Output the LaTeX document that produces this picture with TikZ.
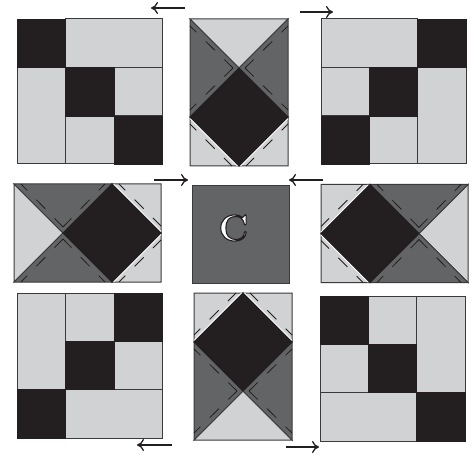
\documentclass[tikz,border=0pt]{standalone}
\usepackage{fontspec}
\usetikzlibrary{arrows.meta}
\newfontfamily\outlinefont[BoldFeatures={FakeBold=3}]{Latin Modern Roman}
\definecolor{lightq}{HTML}{D1D2D4}
\definecolor{darkq}{HTML}{231F20}
\definecolor{midq}{HTML}{636466}
\definecolor{edgeq}{HTML}{3A3A3C}
\tikzset{
  lightpatch/.style={fill=lightq,draw=edgeq,line width=1pt},
  darkpatch/.style={fill=darkq,draw=darkq,line width=0.8pt},
  midpatch/.style={fill=midq,draw=edgeq,line width=1pt},
  seamline/.style={draw=darkq,line width=0.8pt,dash pattern=on 13pt off 13pt,dash phase=4pt},
  whiteline/.style={draw=white,line width=1pt},
  turnarrow/.style={draw=darkq,line width=1.3pt,-{Computer Modern Rightarrow[length=7pt,width=12pt]}},
}
\newcommand{\ninepatch}[1]{%
  \begin{scope}[#1]
    \fill[lightq] (0,0) rectangle (145,145);
    \path[lightpatch] (48.5,0) rectangle (145,48.5);
    \path[lightpatch] (0,48.5) rectangle (48.5,145);
    \path[lightpatch] (97,48.5) rectangle (145,97);
    \path[lightpatch] (48.5,97) rectangle (97,145);
    \path[darkpatch] (0,0) rectangle (48.5,48.5);
    \path[darkpatch] (48.5,48.5) rectangle (97,97);
    \path[darkpatch] (97,97) rectangle (145,145);
  \end{scope}}
\newcommand{\foldpatch}[1]{%
  \begin{scope}[#1]
    \path[lightpatch] (0,0) -- (98,0) -- (49,49) -- cycle;
    \path[midpatch] (0,0) -- (49,49) -- (0,98) -- cycle;
    \path[midpatch] (98,0) -- (49,49) -- (98,98) -- cycle;
    \path[lightpatch] (0,98) -- (49,147) -- (0,147) -- cycle;
    \path[lightpatch] (98,98) -- (49,147) -- (98,147) -- cycle;
    \draw[whiteline] (0.3,99.6) -- (47.6,147);
    \draw[whiteline] (97.7,99.6) -- (50.4,147);
    \path[darkpatch] (49,49) -- (98,98) -- (49,147) -- (0,98) -- cycle;
    \draw[seamline] (0,7) -- (43,49);
    \draw[seamline] (0,91) -- (43,49);
    \draw[seamline] (98,7) -- (55,49);
    \draw[seamline] (98,91) -- (55,49);
    \draw[seamline] (0,105) -- (42,147);
    \draw[seamline] (98,105) -- (56,147);
  \end{scope}}
\begin{document}
\begin{tikzpicture}[x=1pt,y=-1pt]
  \useasboundingbox (0,0) rectangle (474,457);
  \ninepatch{shift={(17,19)}}
  \ninepatch{shift={(466,19)},xscale=-1}
  \ninepatch{shift={(17,438)},yscale=-1}
  \ninepatch{shift={(465,441)},xscale=-1,yscale=-1}
  \foldpatch{shift={(190,19)}}
  \foldpatch{shift={(14,282)},rotate=90}
  \foldpatch{shift={(468,184.5)},rotate=-90}
  \foldpatch{shift={(292,440)},rotate=180}
  \path[midpatch] (192,186) rectangle (289,283);
  \node[inner sep=0pt,text=white] (centre) at (233.5,228)
    {\fontsize{37}{37}\outlinefont\bfseries\special{pdf:code 0.14 0.12 0.13 RG}C};
  \coordinate (a1s) at (185,8);   \coordinate (a1e) at (151,8);
  \coordinate (a2s) at (300,12);  \coordinate (a2e) at (333,12);
  \coordinate (a3s) at (154,180); \coordinate (a3e) at (188,180);
  \coordinate (a4s) at (323,180); \coordinate (a4e) at (289,180);
  \coordinate (a5s) at (172,445); \coordinate (a5e) at (137,445);
  \coordinate (a6s) at (286,447); \coordinate (a6e) at (319,447);
  \foreach \p in {1,...,6} \draw[turnarrow] (a\p s) -- (a\p e);
\end{tikzpicture}
\end{document}
